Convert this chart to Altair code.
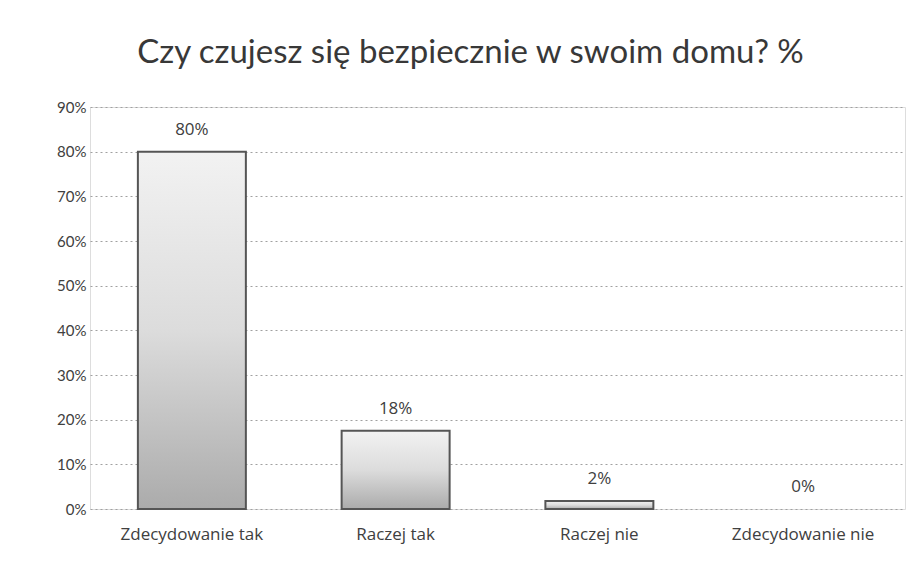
import altair as alt
import pandas as pd

categories = ["Zdecydowanie tak", "Raczej tak", "Raczej nie", "Zdecydowanie nie"]
values = [0.80, 0.175, 0.018, 0.0]
labels = ["80%", "18%", "2%", "0%"]
y_ticks = [0, 0.1, 0.2, 0.3, 0.4, 0.5, 0.6, 0.7, 0.8, 0.9]

df = pd.DataFrame({"kategoria": categories, "wartosc": values, "etykieta": labels})

FONT = "Lato"
FONT2 = "Open Sans"
TXT = "#404040"

x = alt.X("kategoria:N", sort=categories,
          scale=alt.Scale(paddingInner=0.47, paddingOuter=0.235),
          axis=alt.Axis(title=None, labelAngle=0, labelFontSize=17, labelColor=TXT,
                        labelFont=FONT2, labelPadding=17, ticks=False, domain=False))
y = alt.Y("wartosc:Q", scale=alt.Scale(domain=[0, 0.9], nice=False),
          axis=alt.Axis(title=None, values=y_ticks, format=".0%", labelFontSize=15,
                        labelColor=TXT, labelFont=FONT, labelPadding=4, ticks=False,
                        domain=False, grid=True, gridColor="#a0a0a0", gridDash=[2, 3],
                        gridWidth=1))

bars = alt.Chart(df).mark_bar(
    stroke="#555555", strokeWidth=2,
    color=alt.Gradient(gradient="linear", x1=0, x2=0, y1=0, y2=1,
                       stops=[alt.GradientStop(color="#f2f2f2", offset=0),
                              alt.GradientStop(color="#dcdcdc", offset=0.5),
                              alt.GradientStop(color="#ababab", offset=1)])
).encode(
    x=x, y=y,
    strokeOpacity=alt.condition(alt.datum.wartosc > 0, alt.value(1), alt.value(0)),
)

text = alt.Chart(df).mark_text(dy=-22, fontSize=17, font=FONT2, color=TXT).encode(
    x=alt.X("kategoria:N", sort=categories), y="wartosc:Q", text="etykieta:N")

chart = (bars + text).properties(
    width=815, height=402,
    title=alt.TitleParams("Czy czujesz się bezpiecznie w swoim domu? %", fontSize=33,
                          font=FONT, fontWeight="normal", color="#383838",
                          offset=30, dx=-27, anchor="middle"),
    autosize=alt.AutoSizeParams(type="none"),
    padding={"left": 82, "top": 99, "right": 7, "bottom": 46},
).configure_view(stroke=None).configure(background="white")

chart.save("out.html", embed_options={"renderer": "svg", "actions": False})
